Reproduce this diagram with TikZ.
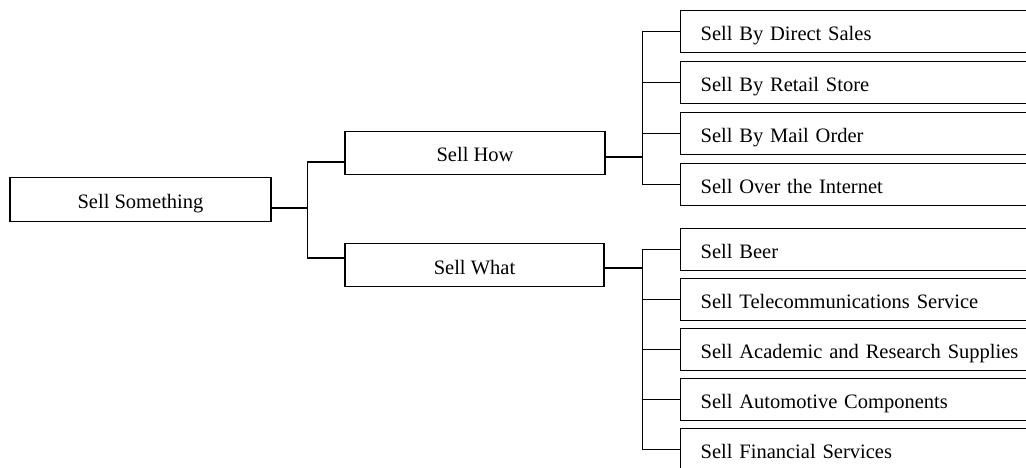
\documentclass[tikz,border=0pt]{standalone}
\usepackage{fontspec}
\setmainfont{Liberation Serif}
\begin{document}
\begin{tikzpicture}[x=1pt, y=-1pt, line width=1.4pt,
  box/.style={draw, rectangle, inner sep=0pt, line width=1.4pt,
              text height=18pt, text depth=0pt,
              font=\fontsize{20.5}{24}\selectfont},
  midbox/.style={box, minimum height=43pt},
  leaf/.style={box, anchor=north west, minimum height=42pt,
               text width=460pt, inner xsep=20pt, align=left},
  link/.style={draw, line width=1.4pt}]
\useasboundingbox (0,0) rectangle (1026,468);
\clip (0,0) rectangle (1026,468);

% root and second level
\node[box, minimum width=261pt, minimum height=44pt] (root) at (140.5,199.5) {Sell Something};
\node[midbox, minimum width=260pt] (how)  at (475,153)   {Sell How};
\node[midbox, minimum width=259pt] (what) at (474.5,265) {Sell What};

% ways of selling
\node[leaf] (h1) at (680,10)  {Sell By Direct Sales};
\node[leaf] (h2) at (680,61)  {Sell By Retail Store};
\node[leaf] (h3) at (680,112) {Sell By Mail Order};
\node[leaf] (h4) at (680,163) {Sell Over the Internet};

% things to sell
\node[leaf] (w1) at (680,228) {Sell Beer};
\node[leaf] (w2) at (680,278) {Sell Telecommunications Service};
\node[leaf] (w3) at (680,328) {Sell Academic and Research Supplies};
\node[leaf] (w4) at (680,378) {Sell Automotive Components};
\node[leaf] (w5) at (680,428) {Sell Financial Services};

% root bracket
\path[link] ([yshift=-8.5pt]root.east) -- ++(36,0) coordinate (r0);
\path[link] ([yshift=-9pt]how.west) -| (r0) |- ([yshift=7pt]what.west);

% "how" bracket
\path[link] ([yshift=-4pt]how.east) -- ++(37,0) coordinate (h0);
\path[link] (h1.west) -| (h0) |- (h4.west);
\path[link] (h2.west) -- (h2.west -| h0);
\path[link] (h3.west) -- (h3.west -| h0);

% "what" bracket
\path[link] ([yshift=-3pt]what.east) -- ++(38,0) coordinate (w0);
\path[link] (w1.west) -| (w0) |- (w5.west);
\path[link] (w2.west) -- (w2.west -| w0);
\path[link] (w3.west) -- (w3.west -| w0);
\path[link] (w4.west) -- (w4.west -| w0);
\end{tikzpicture}
\end{document}
